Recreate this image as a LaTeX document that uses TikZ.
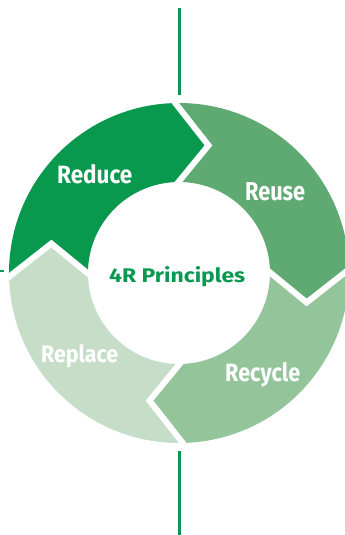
\documentclass[tikz,border=0pt]{standalone}
\usepackage{fontspec}
\setmainfont{Fira Sans}
\usepackage{graphicx}
\definecolor{cLine}{RGB}{10,152,80}
\definecolor{cReduce}{RGB}{8,152,78}
\definecolor{cReuse}{RGB}{94,170,114}
\definecolor{cRecycle}{RGB}{148,196,154}
\definecolor{cReplace}{RGB}{198,222,200}
\newcommand\Ro{170}
\newcommand\Ri{91}
\newcommand\Rm{131}
\newcommand\dl{15}
\newcommand\ringseg[2]{%
  \fill[#2] (#1:\Ro pt) arc[start angle=#1, end angle=#1-90, radius=\Ro pt]
    -- (#1-90-\dl:\Rm pt) -- (#1-90:\Ri pt)
    arc[start angle=#1-90, end angle=#1, radius=\Ri pt]
    -- (#1-\dl:\Rm pt) -- cycle;}
\newcommand\ringgap[1]{%
  \draw[gapline] (#1:173pt) -- (#1-\dl:\Rm pt) -- (#1:88pt);}
\begin{document}
\begin{tikzpicture}[x=1pt,y=1pt,line join=miter,
  gapline/.style={white,line width=6pt},
  axisline/.style={cLine,line width=3pt},
  seglabel/.style={inner sep=0pt,anchor=base west,text=white,font=\bfseries},
  titlelabel/.style={inner sep=0pt,anchor=base west,text=cLine,font=\bfseries}]
\useasboundingbox (0,0) rectangle (345,-535);
\clip (0,0) rectangle (345,-535);
\coordinate (topA) at (179,-8);
\coordinate (topB) at (179,-95);
\coordinate (botA) at (179,-451);
\coordinate (botB) at (179,-535);
\coordinate (leftA) at (-10,-271);
\coordinate (leftB) at (4,-271);
\draw[axisline] (topA) -- (topB);
\draw[axisline] (botA) -- (botB);
\draw[cLine,line width=2.5pt] (leftA) -- (leftB);
\begin{scope}[shift={(179,-273)}]
  \ringseg{182}{cReduce}
  \ringseg{92}{cReuse}
  \ringseg{2}{cRecycle}
  \ringseg{-88}{cReplace}
  \ringgap{182}
  \ringgap{92}
  \ringgap{2}
  \ringgap{-88}
\end{scope}
\node[seglabel] (reduce) at (57,-183) {\resizebox{75pt}{19pt}{Reduce}};
\node[seglabel] (reuse) at (245,-200) {\resizebox{60pt}{18pt}{Reuse}};
\node[seglabel] (recycle) at (225,-381) {\resizebox{75pt}{19pt}{Recycle}};
\node[seglabel] (replace) at (41,-362) {\resizebox{77pt}{18pt}{Replace}};
\node[titlelabel] (title) at (109,-282) {\resizebox{136pt}{16pt}{4R Principles}};
\end{tikzpicture}
\end{document}
